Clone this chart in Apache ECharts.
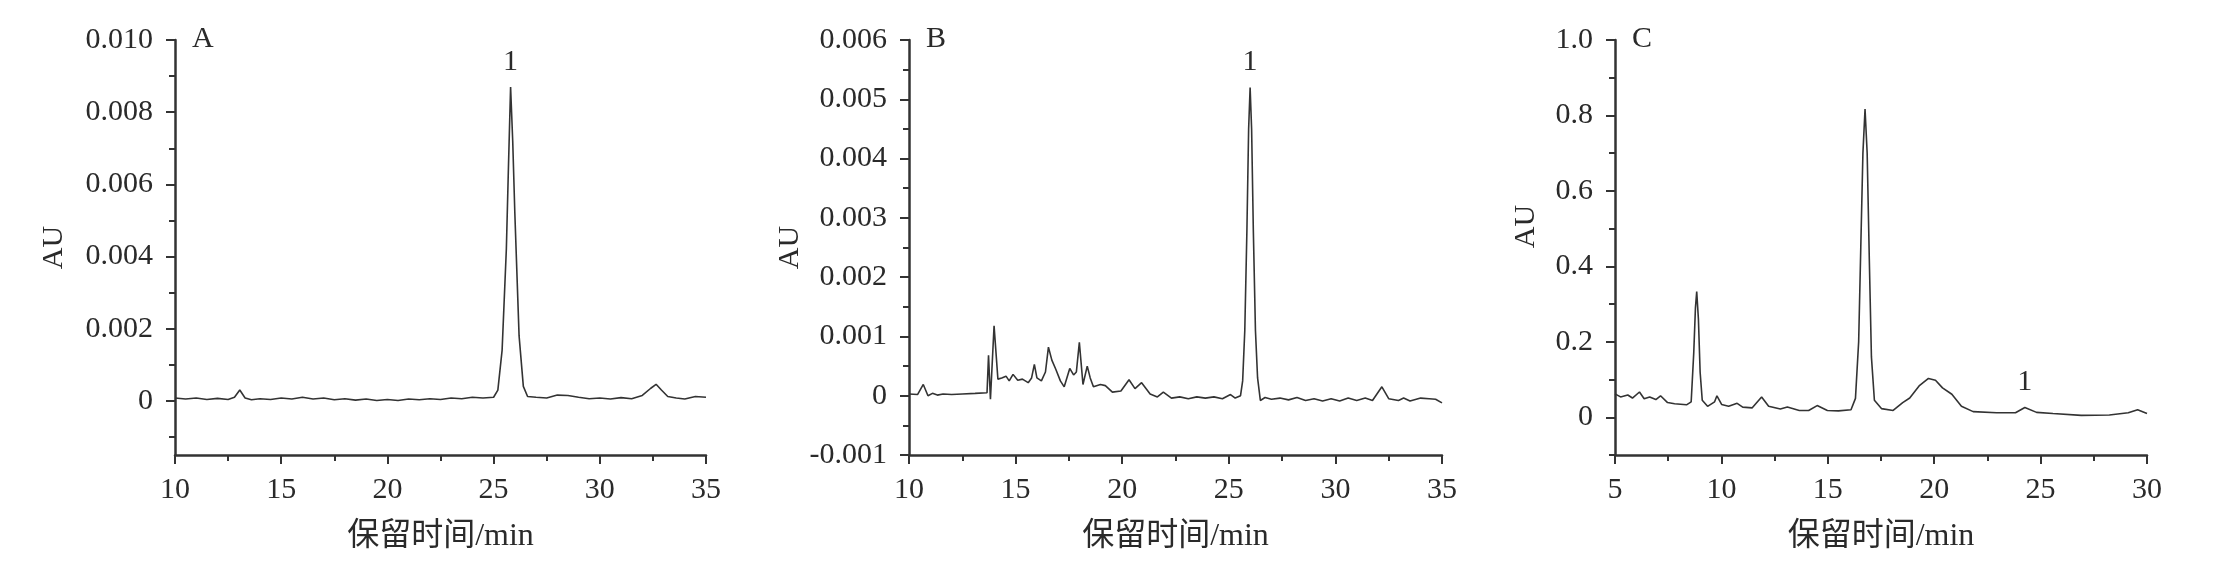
<!DOCTYPE html>
<html>
<head>
<meta charset="utf-8">
<script src="https://cdn.jsdelivr.net/npm/echarts@6/dist/echarts.min.js"></script>
<style>
  html, body { margin: 0; padding: 0; background: #fff; }
  #chart { width: 2216px; height: 578px; }
</style>
</head>
<body>
<div id="chart"></div>
<script>
// 色谱图数据 [保留时间/min, AU]
const seriesA = [
  [10, 0.00008], [10.5, 0.00005], [11, 0.00008], [11.5, 0.00004], [12, 0.00007], [12.5, 0.00004],
  [12.8, 0.0001], [13.05, 0.0003], [13.3, 0.00008], [13.6, 0.00003], [14, 0.00006], [14.5, 0.00004],
  [15, 0.00008], [15.5, 0.00005], [16, 0.0001], [16.5, 0.00005], [17, 0.00008], [17.5, 0.00003],
  [18, 0.00006], [18.5, 0.00002], [19, 0.00005], [19.5, 0.00001], [20, 0.00004], [20.5, 0.00001],
  [21, 0.00005], [21.5, 0.00003], [22, 0.00006], [22.5, 0.00004], [23, 0.00008], [23.5, 0.00006],
  [24, 0.0001], [24.5, 0.00008], [25, 0.0001], [25.2, 0.0003], [25.4, 0.0014], [25.6, 0.0042],
  [25.7, 0.0065], [25.8, 0.0087], [25.9, 0.0072], [26.0, 0.0052], [26.2, 0.0018], [26.4, 0.0004],
  [26.6, 0.00012], [27, 0.0001], [27.5, 0.00008], [28, 0.00016], [28.5, 0.00015], [29, 0.0001],
  [29.5, 0.00006], [30, 0.00008], [30.5, 0.00005], [31, 0.00009], [31.5, 0.00006], [32, 0.00015],
  [32.4, 0.00035], [32.65, 0.00046], [32.9, 0.0003], [33.2, 0.00012], [33.6, 0.00008], [34, 0.00005],
  [34.5, 0.00012], [35, 0.0001]
];
const seriesB = [
  [10, 0.00003], [10.4, 0.00002], [10.67, 0.00019], [10.89, 0.0], [11.1, 0.00004], [11.33, 0.00001],
  [11.6, 0.00003], [12.0, 0.00002], [12.5, 0.00003], [13.1, 0.00004], [13.66, 0.00005], [13.73, 0.00068],
  [13.82, -0.00006], [13.99, 0.00118], [14.17, 0.00028], [14.35, 0.0003], [14.55, 0.00033], [14.7, 0.00025],
  [14.88, 0.00036], [15.1, 0.00026], [15.32, 0.00028], [15.59, 0.00022], [15.75, 0.0003], [15.88, 0.00053],
  [16.0, 0.0003], [16.21, 0.00025], [16.4, 0.0004], [16.54, 0.00082], [16.7, 0.0006], [16.88, 0.00045],
  [17.1, 0.00025], [17.28, 0.00015], [17.54, 0.00046], [17.72, 0.00035], [17.85, 0.0004], [17.99, 0.0009],
  [18.16, 0.00019], [18.36, 0.0005], [18.5, 0.0003], [18.65, 0.00015], [18.98, 0.00019], [19.21, 0.00017],
  [19.54, 0.00006], [19.94, 0.00008], [20.32, 0.00027], [20.6, 0.00012], [20.91, 0.00022], [21.31, 0.00003],
  [21.65, -0.00002], [21.93, 0.00006], [22.31, -0.00004], [22.7, -0.00002], [23.1, -0.00005], [23.5, -0.00002],
  [23.9, -0.00004], [24.3, -0.00002], [24.7, -0.00005], [25.08, 0.00002], [25.3, -0.00004], [25.55, 0.0],
  [25.65, 0.00025], [25.75, 0.0011], [25.85, 0.0028], [25.93, 0.0045], [26.0, 0.0052], [26.07, 0.0045],
  [26.15, 0.0028], [26.25, 0.0011], [26.35, 0.0003], [26.48, -0.00008], [26.7, -0.00003], [27.0, -0.00006],
  [27.4, -0.00004], [27.8, -0.00007], [28.2, -0.00003], [28.6, -0.00008], [29.0, -0.00005], [29.4, -0.00009],
  [29.8, -0.00005], [30.2, -0.00009], [30.6, -0.00004], [31.0, -0.00008], [31.4, -0.00004], [31.74, -0.00008],
  [32.18, 0.00015], [32.5, -0.00005], [32.96, -0.00008], [33.2, -0.00004], [33.5, -0.00009], [34.0, -0.00004],
  [34.4, -0.00005], [34.7, -0.00006], [35, -0.00012]
];
const seriesC = [
  [5, 0.062], [5.26, 0.054], [5.6, 0.059], [5.82, 0.051], [6.15, 0.067], [6.37, 0.049], [6.63, 0.054],
  [6.92, 0.047], [7.14, 0.057], [7.47, 0.039], [7.8, 0.036], [8.36, 0.033], [8.58, 0.041], [8.7, 0.17],
  [8.78, 0.29], [8.84, 0.333], [8.92, 0.26], [9.0, 0.12], [9.1, 0.045], [9.35, 0.029], [9.68, 0.041],
  [9.79, 0.057], [10.01, 0.034], [10.34, 0.029], [10.74, 0.037], [11.0, 0.027], [11.45, 0.025],
  [11.89, 0.054], [12.22, 0.029], [12.77, 0.022], [13.1, 0.027], [13.66, 0.018], [14.1, 0.018],
  [14.5, 0.031], [14.98, 0.018], [15.5, 0.017], [16.09, 0.02], [16.3, 0.05], [16.45, 0.2], [16.55, 0.45],
  [16.65, 0.7], [16.75, 0.817], [16.85, 0.7], [16.95, 0.42], [17.05, 0.16], [17.19, 0.045], [17.52, 0.023],
  [18.07, 0.018], [18.52, 0.039], [18.85, 0.051], [19.29, 0.083], [19.73, 0.103], [20.06, 0.098],
  [20.39, 0.078], [20.83, 0.061], [21.28, 0.029], [21.83, 0.015], [22.93, 0.012], [23.82, 0.012],
  [24.26, 0.026], [24.81, 0.013], [25.58, 0.01], [26.91, 0.005], [28.23, 0.006], [29.12, 0.012],
  [29.56, 0.02], [30, 0.01]
];

// 峰标记 "1"
const peakA = [25.8, 0.0087];
const peakB = [26.0, 0.0052];
const peakC = [24.26, 0.026];

// 刻度
const xLabelsAB = [10, 15, 20, 25, 30, 35];
const xMinorAB = [12.5, 17.5, 22.5, 27.5, 32.5];
const xLabelsC = [5, 10, 15, 20, 25, 30];
const xMinorC = [7.5, 12.5, 17.5, 22.5, 27.5];
const yLabelsA = [0, 0.002, 0.004, 0.006, 0.008, 0.010];
const yMinorA = [-0.001, 0.001, 0.003, 0.005, 0.007, 0.009];
const yLabelsB = [-0.001, 0, 0.001, 0.002, 0.003, 0.004, 0.005, 0.006];
const yMinorB = [-0.0005, 0.0005, 0.0015, 0.0025, 0.0035, 0.0045, 0.0055];
const yLabelsC = [0, 0.2, 0.4, 0.6, 0.8, 1.0];
const yMinorC = [-0.1, 0.1, 0.3, 0.5, 0.7, 0.9];

const panelNames = ['A', 'B', 'C'];

const FONT = "'Liberation Serif', 'Times New Roman', 'Noto Sans CJK SC', serif";
const INK = '#2a2a2a';

const grids = [
  { left: 175, top: 40, width: 531, height: 415 },
  { left: 909, top: 40, width: 533, height: 415 },
  { left: 1615, top: 40, width: 532, height: 415 }
];

const textStyle = { fontFamily: FONT, fontSize: 30, color: INK };

const mainX = (i, min, max, labels) => ({
  gridIndex: i, type: 'value', min: min, max: max,
  axisLine: { show: true, onZero: false, lineStyle: { color: '#333', width: 2.5 } },
  axisTick: { show: true, length: 9, customValues: labels, lineStyle: { color: '#333', width: 2 } },
  axisLabel: Object.assign({ customValues: labels, margin: 20, formatter: v => String(v) }, textStyle),
  splitLine: { show: false },
  name: '保留时间/min', nameLocation: 'middle', nameGap: 66,
  nameTextStyle: { fontFamily: FONT, fontSize: 32, color: INK }
});
const minorX = (i, min, max, ticks) => ({
  gridIndex: i, type: 'value', min: min, max: max, position: 'bottom',
  axisLine: { show: false, onZero: false },
  axisTick: { show: true, length: 6, customValues: ticks, lineStyle: { color: '#333', width: 2 } },
  axisLabel: { show: false }, splitLine: { show: false }
});
const mainY = (i, min, max, labels, digits, gap, shift) => ({
  gridIndex: i, type: 'value', min: min, max: max, position: 'left',
  axisLine: { show: true, onZero: false, lineStyle: { color: '#333', width: 2.5 } },
  axisTick: { show: true, length: 9, customValues: labels, lineStyle: { color: '#333', width: 2 } },
  axisLabel: Object.assign({
    customValues: labels, margin: 22,
    formatter: v => (Math.abs(v) < 1e-12 ? '0' : v.toFixed(digits))
  }, textStyle),
  splitLine: { show: false },
  name: 'AU', nameLocation: 'middle', nameGap: gap, nameRotate: 90,
  nameTextStyle: { fontFamily: FONT, fontSize: 30, color: INK, padding: [0, 0, 0, shift] }
});
const minorY = (i, min, max, ticks) => ({
  gridIndex: i, type: 'value', min: min, max: max, position: 'left',
  axisLine: { show: false, onZero: false },
  axisTick: { show: true, length: 6, customValues: ticks, lineStyle: { color: '#333', width: 2 } },
  axisLabel: { show: false }, splitLine: { show: false }
});

const lineSeries = (idx, data, peak) => ({
  type: 'line', xAxisIndex: idx, yAxisIndex: idx, data: data,
  showSymbol: false, symbol: 'none', animation: false,
  lineStyle: { color: '#333', width: 1.6 },
  markPoint: {
    symbol: 'circle', symbolSize: 0, animation: false,
    label: { show: true, position: 'top', distance: 10, formatter: '1', fontFamily: FONT, fontSize: 30, color: INK },
    data: [{ coord: peak }]
  }
});

const chart = echarts.init(document.getElementById('chart'));
chart.setOption({
  backgroundColor: '#fff',
  animation: false,
  grid: grids,
  xAxis: [
    mainX(0, 10, 35, xLabelsAB), mainX(1, 10, 35, xLabelsAB), mainX(2, 5, 30, xLabelsC),
    minorX(0, 10, 35, xMinorAB), minorX(1, 10, 35, xMinorAB), minorX(2, 5, 30, xMinorC)
  ],
  yAxis: [
    mainY(0, -0.0015, 0.010, yLabelsA, 3, 106, 0),
    mainY(1, -0.001, 0.006, yLabelsB, 3, 104, 0),
    mainY(2, -0.1, 1.0, yLabelsC, 1, 74, 42),
    minorY(0, -0.0015, 0.010, yMinorA), minorY(1, -0.001, 0.006, yMinorB), minorY(2, -0.1, 1.0, yMinorC)
  ],
  series: [
    lineSeries(0, seriesA, peakA),
    lineSeries(1, seriesB, peakB),
    lineSeries(2, seriesC, peakC)
  ],
  graphic: grids.map((g, i) => ({
    type: 'text', left: g.left + 17, top: 24,
    style: { text: panelNames[i], font: '30px ' + FONT, fill: INK }
  }))
});
</script>
</body>
</html>
